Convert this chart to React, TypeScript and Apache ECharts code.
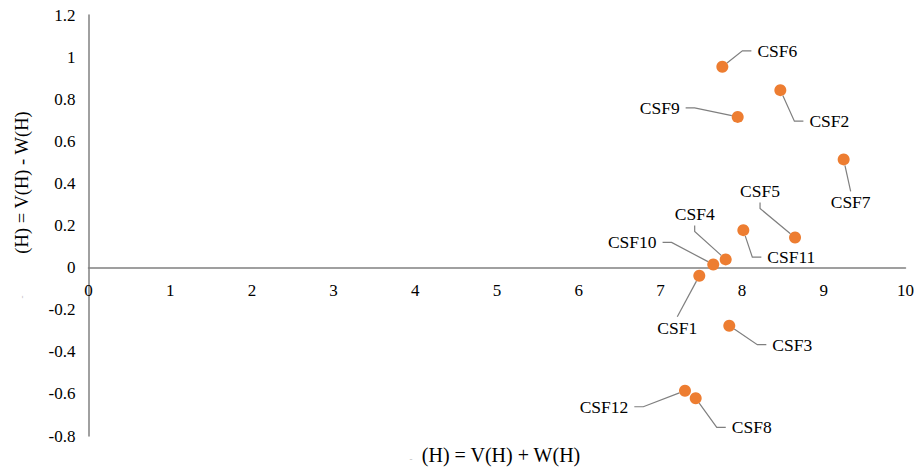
import React, { useEffect, useRef } from "react";
import * as echarts from "echarts";

const names = ["CSF1", "CSF2", "CSF3", "CSF4", "CSF5", "CSF6", "CSF7", "CSF8", "CSF9", "CSF10", "CSF11", "CSF12"];
const xValues = [7.476, 8.468, 7.843, 7.799, 8.648, 7.758, 9.243, 7.432, 7.946, 7.647, 8.015, 7.301];
const yValues = [-0.039, 0.843, -0.276, 0.039, 0.143, 0.954, 0.514, -0.621, 0.716, 0.015, 0.178, -0.585];
const xTitle = "(H) = V(H) + W(H)";
const yTitle = "(H) = V(H) - W(H)";
const Y_MIN = -0.8;
const Y_MAX = 1.2;

// label offsets (px) relative to each point, CSF1..CSF12
const labelOffsets: [number, number][] = [
  [-22, 52], [49, 31], [63, 19], [-31, -45], [-35, -46], [55, -16],
  [7, 43], [56, 29], [-78, -9], [-81, -22], [48, 27], [-81, 16],
];
// elbow length of each leader line, CSF1..CSF12
const elbowLengths = [0, 9, 9, 6, 6, 9, 0, 9, 9, 9, 9, 9];

const FONT = "Liberation Serif";
const GRID_TOP = 15;
const GRID_BOTTOM = 35;
const HEIGHT = 471;

export default function App() {
  const ref = useRef<HTMLDivElement>(null);
  useEffect(() => {
    if (!ref.current) return;
    const chart = echarts.init(ref.current, undefined, { renderer: "svg" });
    const data = names.map((n, i) => ({
      name: n,
      value: [xValues[i], yValues[i]],
      labelLine: { length2: elbowLengths[i] },
    }));
    const plotH = HEIGHT - GRID_TOP - GRID_BOTTOM;
    const zeroFromBottom = (plotH * (0 - Y_MIN)) / (Y_MAX - Y_MIN);
    chart.setOption({
      animation: false,
      backgroundColor: "#ffffff",
      grid: { left: 88.5, right: 17.5, top: GRID_TOP, bottom: GRID_BOTTOM, containLabel: false },
      xAxis: {
        type: "value",
        position: "bottom",
        offset: -zeroFromBottom,
        min: 0,
        max: 10,
        interval: 1,
        axisLine: { show: true, onZero: false, lineStyle: { color: "#808080", width: 1.5 } },
        axisTick: { show: false },
        splitLine: { show: false },
        axisLabel: { color: "#000", fontFamily: FONT, fontSize: 17, margin: 14 },
      },
      yAxis: {
        type: "value",
        min: Y_MIN,
        max: Y_MAX,
        interval: 0.2,
        axisLine: { show: true, onZero: false, lineStyle: { color: "#808080", width: 1.5 } },
        axisTick: { show: false },
        splitLine: { show: false },
        axisLabel: {
          color: "#000",
          fontFamily: FONT,
          fontSize: 17,
          margin: 13,
          formatter: (v: number) => String(Math.round(v * 10) / 10),
        },
      },
      graphic: [
        {
          type: "text",
          x: 501,
          y: 455,
          style: { text: xTitle, fontFamily: FONT, fontSize: 20, fill: "#000", align: "center", verticalAlign: "middle" },
        },
        {
          type: "text",
          x: 411,
          y: 459,
          style: { text: "-", fontFamily: FONT, fontSize: 9, fill: "#bbb", align: "center", verticalAlign: "middle" },
        },
        {
          type: "text",
          x: 22,
          y: 182.5,
          rotation: Math.PI / 2,
          style: { text: yTitle, fontFamily: FONT, fontSize: 18.5, fill: "#000", align: "center", verticalAlign: "middle" },
        },
        {
          type: "text",
          x: 22,
          y: 297,
          rotation: Math.PI / 2,
          style: { text: "-", fontFamily: FONT, fontSize: 9, fill: "#bbb", align: "center", verticalAlign: "middle" },
        },
      ],
      series: [
        {
          type: "scatter",
          data,
          symbol: "circle",
          symbolSize: 12,
          itemStyle: { color: "#ED7D31", opacity: 1 },
          label: {
            show: true,
            position: "inside",
            formatter: "{b}",
            color: "#000",
            fontFamily: FONT,
            fontSize: 17.5,
            padding: [2, 6],
            backgroundColor: "rgba(0,0,0,0)",
          },
          labelLine: { show: true, length2: 9, lineStyle: { color: "#7f7f7f", width: 1.2 } },
          labelLayout: (params: any) => {
            const o = labelOffsets[params.dataIndex] || [0, 0];
            return { dx: o[0], dy: o[1], hideOverlap: false };
          },
          emphasis: { disabled: true },
        },
      ],
    });
    return () => chart.dispose();
  }, []);
  return <div ref={ref} style={{ position: "fixed", left: 0, top: 0, width: 923, height: 471 }} />;
}
